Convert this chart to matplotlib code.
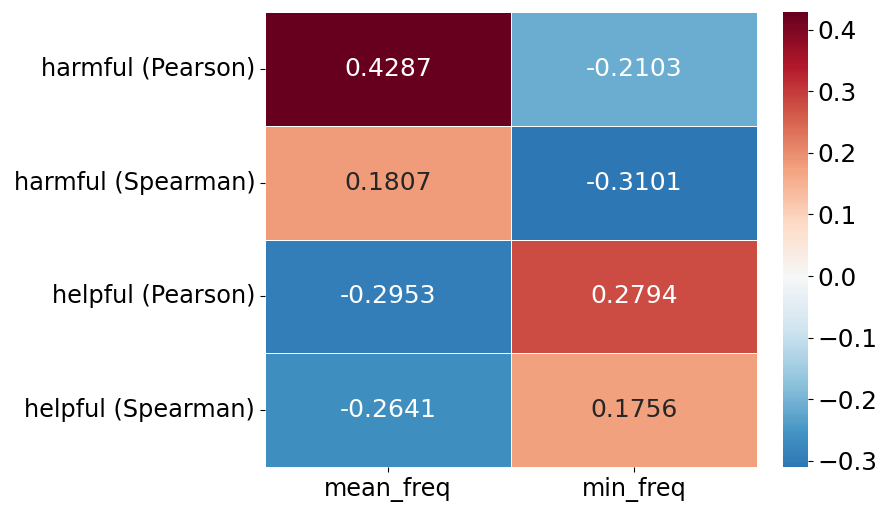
import numpy as np
import pandas as pd
import matplotlib.pyplot as plt
import seaborn as sns

rows = ['harmful (Pearson)', 'harmful (Spearman)', 'helpful (Pearson)', 'helpful (Spearman)']
cols = ['mean_freq', 'min_freq']
mean_freq = [0.4287, 0.1807, -0.2953, -0.2641]
min_freq = [-0.2103, -0.3101, 0.2794, 0.1756]

df = pd.DataFrame({'mean_freq': mean_freq, 'min_freq': min_freq}, index=rows)

plt.rcParams['font.size'] = 17.3
fig = plt.figure(figsize=(8.81, 5.07), dpi=100)
ax = fig.add_axes([265 / 881, 1 - 467 / 507, (757 - 265) / 881, (467 - 12) / 507])
cax = fig.add_axes([783 / 881, 1 - 467 / 507, (808 - 783) / 881, (467 - 12) / 507])

sns.heatmap(df, ax=ax, cbar_ax=cax, cmap='RdBu_r', center=0, annot=True, fmt='.4f',
            linewidths=0.5, linecolor='white', annot_kws={'size': 18})
ax.tick_params(axis='y', rotation=0, labelsize=17.3)
ax.tick_params(axis='x', labelsize=17.3)
cax.tick_params(labelsize=17.8)
cax.set_yticks([-0.3, -0.2, -0.1, 0.0, 0.1, 0.2, 0.3, 0.4])

fig.savefig('out.png', dpi=100)
